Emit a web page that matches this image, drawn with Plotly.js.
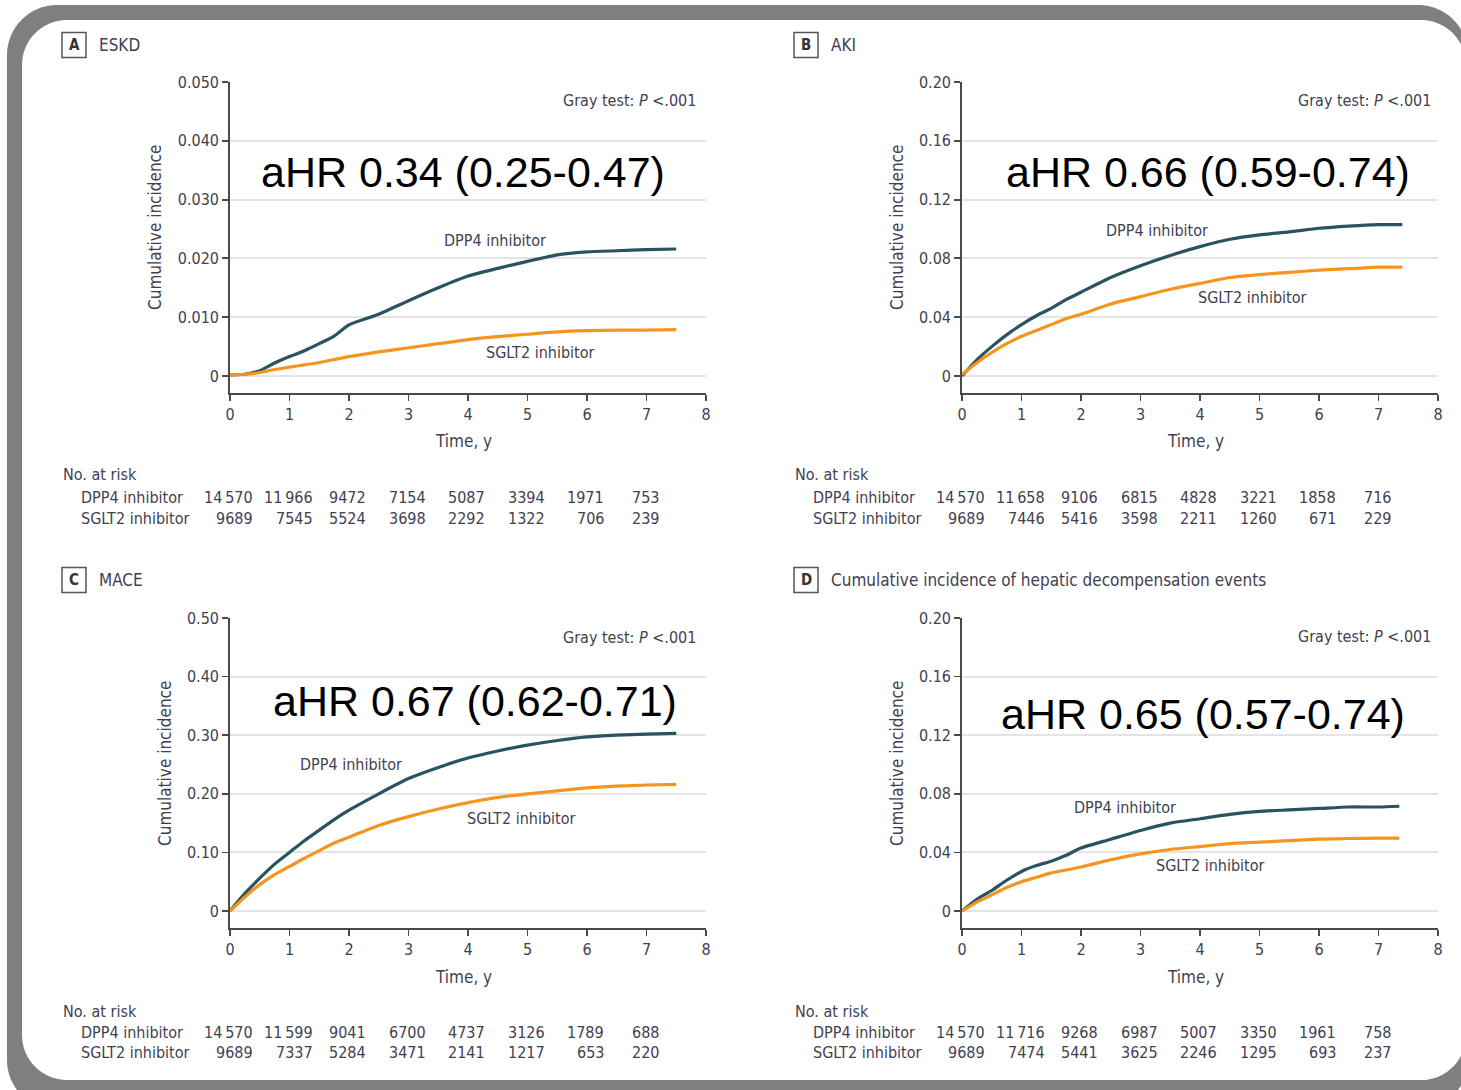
<!DOCTYPE html>
<html>
<head>
<meta charset="utf-8">
<script src="https://cdn.plot.ly/plotly-3.0.1.min.js"></script>
<style>
html,body{margin:0;padding:0;background:#fff;}
#chart{width:1461px;height:1090px;}
</style>
</head>
<body>
<div id="chart"></div>
<script>
// ---------- DATA ----------
const timeA = [0,0.25,0.5,0.75,1,1.25,1.5,1.75,2,2.5,3,3.5,4,4.5,5,5.5,6,6.5,7,7.5];
const eskdDPP4 = [0.0002,0.0003,0.0009,0.0022,0.0033,0.0043,0.0055,0.0068,0.0087,0.0105,0.0128,0.0150,0.0170,0.0183,0.0195,0.0206,0.0211,0.0213,0.0215,0.0216];
const eskdSGLT2 = [0.0002,0.0003,0.0006,0.0011,0.0015,0.0019,0.0023,0.0028,0.0033,0.0041,0.0048,0.0055,0.0062,0.0067,0.0071,0.0075,0.0077,0.0078,0.0078,0.0079];

const timeB = [0,0.25,0.5,0.75,1,1.25,1.5,1.75,2,2.5,3,3.5,4,4.5,5,5.5,6,6.5,7,7.4];
const akiDPP4 = [0,0.011,0.020,0.028,0.035,0.041,0.046,0.052,0.057,0.067,0.075,0.082,0.088,0.093,0.096,0.098,0.1005,0.102,0.103,0.103];
const akiSGLT2 = [0.001,0.009,0.016,0.022,0.027,0.031,0.035,0.039,0.042,0.049,0.054,0.059,0.063,0.067,0.069,0.0705,0.072,0.073,0.074,0.074];

const timeC = [0,0.25,0.5,0.75,1,1.25,1.5,1.75,2,2.5,3,3.5,4,4.5,5,5.5,6,6.5,7,7.5];
const maceDPP4 = [0,0.030,0.056,0.080,0.100,0.120,0.138,0.156,0.172,0.200,0.226,0.245,0.261,0.273,0.283,0.291,0.297,0.300,0.302,0.303];
const maceSGLT2 = [0,0.024,0.045,0.062,0.076,0.090,0.103,0.116,0.126,0.146,0.161,0.174,0.185,0.194,0.200,0.205,0.210,0.213,0.215,0.216];

const timeD = [0,0.25,0.5,0.75,1,1.25,1.5,1.75,2,2.5,3,3.5,4,4.5,5,5.5,6,6.5,7,7.35];
const hepDPP4 = [0,0.008,0.014,0.021,0.027,0.031,0.034,0.038,0.043,0.049,0.055,0.060,0.063,0.066,0.068,0.069,0.070,0.071,0.071,0.0715];
const hepSGLT2 = [0,0.006,0.011,0.016,0.020,0.023,0.026,0.028,0.030,0.035,0.039,0.042,0.044,0.046,0.047,0.048,0.049,0.0495,0.0497,0.0498];

const riskYears = [0,1,2,3,4,5,6,7];
const riskA_DPP4 = [14570,11966,9472,7154,5087,3394,1971,753];
const riskA_SGLT2 = [9689,7545,5524,3698,2292,1322,706,239];
const riskB_DPP4 = [14570,11658,9106,6815,4828,3221,1858,716];
const riskB_SGLT2 = [9689,7446,5416,3598,2211,1260,671,229];
const riskC_DPP4 = [14570,11599,9041,6700,4737,3126,1789,688];
const riskC_SGLT2 = [9689,7337,5284,3471,2141,1217,653,220];
const riskD_DPP4 = [14570,11716,9268,6987,5007,3350,1961,758];
const riskD_SGLT2 = [9689,7474,5441,3625,2246,1295,693,237];

const panelLetters = ['A','B','C','D'];
const panelTitles = ['ESKD','AKI','MACE','Cumulative incidence of hepatic decompensation events'];
const hrTexts = ['aHR 0.34 (0.25-0.47)','aHR 0.66 (0.59-0.74)','aHR 0.67 (0.62-0.71)','aHR 0.65 (0.57-0.74)'];
const yTickValsA = [0,0.01,0.02,0.03,0.04,0.05];
const yTickTextA = ['0','0.010','0.020','0.030','0.040','0.050'];
const yTickValsB = [0,0.04,0.08,0.12,0.16,0.20];
const yTickTextB = ['0','0.04','0.08','0.12','0.16','0.20'];
const yTickValsC = [0,0.1,0.2,0.3,0.4,0.5];
const yTickTextC = ['0','0.10','0.20','0.30','0.40','0.50'];
const xTickVals = [0,1,2,3,4,5,6,7,8];
const seriesNames = ['DPP4 inhibitor','SGLT2 inhibitor'];

// ---------- LAYOUT HELPERS ----------
const W = 1461, H = 1090;
const px = v => v / W;
const py = v => 1 - v / H;
const FONT = '"Liberation Sans Narrow", "DejaVu Sans Condensed", "Roboto Condensed", "Arial Narrow", "Liberation Sans", sans-serif';
const TXT = '#3f4150';
const AX = '#4a4a4a';
const DPP4_COLOR = '#29535f';
const SGLT2_COLOR = '#f7941d';

const panels = [
  {t: timeA, d: eskdDPP4, s: eskdSGLT2, rd: riskA_DPP4, rs: riskA_SGLT2, x0: 230, x1: 706, yTop: 82, yZero: 376, yBot: 393, ymax: 0.05, tv: yTickValsA, tt: yTickTextA,
   lblX: 62, lblY: 45, grayX: 698, grayY: 101, hrX: 463, hrY: 172, dLab: [495,240], sLab: [540,352], ytX: 155, ytY: 228, tY: 441, riskY: [475,497,518]},
  {t: timeB, d: akiDPP4, s: akiSGLT2, rd: riskB_DPP4, rs: riskB_SGLT2, x0: 962, x1: 1438, yTop: 82, yZero: 376, yBot: 393, ymax: 0.2, tv: yTickValsB, tt: yTickTextB,
   lblX: 794, lblY: 45, grayX: 1433, grayY: 101, hrX: 1208, hrY: 172, dLab: [1157,230], sLab: [1252,297], ytX: 897, ytY: 228, tY: 441, riskY: [475,497,518]},
  {t: timeC, d: maceDPP4, s: maceSGLT2, rd: riskC_DPP4, rs: riskC_SGLT2, x0: 230, x1: 706, yTop: 618, yZero: 911, yBot: 928, ymax: 0.5, tv: yTickValsC, tt: yTickTextC,
   lblX: 62, lblY: 580, grayX: 698, grayY: 637, hrX: 475, hrY: 701, dLab: [351,764], sLab: [521,818], ytX: 165, ytY: 764, tY: 977, riskY: [1011,1032,1052]},
  {t: timeD, d: hepDPP4, s: hepSGLT2, rd: riskD_DPP4, rs: riskD_SGLT2, x0: 962, x1: 1438, yTop: 618, yZero: 911, yBot: 928, ymax: 0.2, tv: yTickValsB, tt: yTickTextB,
   lblX: 794, lblY: 580, grayX: 1433, grayY: 636, hrX: 1203, hrY: 714, dLab: [1125,807], sLab: [1210,865], ytX: 897, ytY: 764, tY: 977, riskY: [1011,1032,1052]}
];

function fmt(n){
  const s = String(n);
  return s.length > 4 ? s.slice(0, s.length-3) + '\u2009' + s.slice(-3) : s;
}

function roundRect(x0, y0, x1, y1, r){
  const k = 0.5523 * r;
  const X = v => px(v).toFixed(5), Y = v => py(v).toFixed(5);
  return 'M' + X(x0+r) + ',' + Y(y0) +
    ' L' + X(x1-r) + ',' + Y(y0) +
    ' C' + X(x1-r+k) + ',' + Y(y0) + ' ' + X(x1) + ',' + Y(y0+r-k) + ' ' + X(x1) + ',' + Y(y0+r) +
    ' L' + X(x1) + ',' + Y(y1-r) +
    ' C' + X(x1) + ',' + Y(y1-r+k) + ' ' + X(x1-r+k) + ',' + Y(y1) + ' ' + X(x1-r) + ',' + Y(y1) +
    ' L' + X(x0+r) + ',' + Y(y1) +
    ' C' + X(x0+r-k) + ',' + Y(y1) + ' ' + X(x0) + ',' + Y(y1-r+k) + ' ' + X(x0) + ',' + Y(y1-r) +
    ' L' + X(x0) + ',' + Y(y0+r) +
    ' C' + X(x0) + ',' + Y(y0+r-k) + ' ' + X(x0+r-k) + ',' + Y(y0) + ' ' + X(x0+r) + ',' + Y(y0) + ' Z';
}

const traces = [];
const layout = {
  width: W, height: H,
  margin: {l:0, r:0, t:0, b:0},
  paper_bgcolor: '#ffffff',
  plot_bgcolor: 'rgba(0,0,0,0)',
  showlegend: false,
  font: {family: FONT, color: TXT, size: 16},
  shapes: [
    {type:'path', xref:'paper', yref:'paper', layer:'below', path: roundRect(7, 5, 1468, 1110, 50), fillcolor:'#7f7f7f', line:{width:0}},
    {type:'path', xref:'paper', yref:'paper', layer:'below', path: roundRect(22, 20, 1466, 1080, 45), fillcolor:'#ffffff', line:{width:0}}
  ],
  annotations: []
};

const offsets = [25, 25.5, 19, 19.5, 19, 19.5, 19, 14.5];

panels.forEach((p, i) => {
  const n = i === 0 ? '' : String(i+1);
  const xa = 'x' + n, ya = 'y' + n;
  const pxPerUnit = (p.yZero - p.yTop) / p.ymax;
  const ymin = -(p.yBot - p.yZero) / pxPerUnit;
  traces.push({x: p.t, y: p.d, xaxis: xa, yaxis: ya, type: 'scatter', mode: 'lines', name: seriesNames[0],
    line: {color: DPP4_COLOR, width: 3.2, shape: 'spline', smoothing: 0.6}, hoverinfo: 'x+y'});
  traces.push({x: p.t, y: p.s, xaxis: xa, yaxis: ya, type: 'scatter', mode: 'lines', name: seriesNames[1],
    line: {color: SGLT2_COLOR, width: 3.2, shape: 'spline', smoothing: 0.6}, hoverinfo: 'x+y'});

  layout['xaxis' + n] = {
    domain: [px(p.x0), px(p.x1)], range: [0, 8], anchor: ya,
    showline: true, linecolor: AX, linewidth: 1.8, ticks: 'outside', ticklen: 6, tickwidth: 1.8, tickcolor: AX,
    tickvals: xTickVals, showgrid: false, zeroline: false, fixedrange: true,
    tickfont: {family: FONT, size: 16, color: TXT}
  };
  layout['yaxis' + n] = {
    domain: [py(p.yBot), py(p.yTop)], range: [ymin, p.ymax], anchor: xa,
    showline: true, linecolor: AX, linewidth: 1.8, ticks: 'outside', ticklen: 6, tickwidth: 1.8, tickcolor: AX,
    tickvals: p.tv, ticktext: p.tt, showgrid: true, gridcolor: '#e4e4e4', gridwidth: 2, zeroline: false, fixedrange: true,
    tickfont: {family: FONT, size: 16, color: TXT}
  };

  // panel letter box
  layout.shapes.push({type:'rect', xref:'paper', yref:'paper', x0: px(p.lblX), x1: px(p.lblX+24), y0: py(p.lblY+12.5), y1: py(p.lblY-12.5),
    line:{color:'#555', width:1.5}, fillcolor:'#fff', layer:'above'});
  const A = layout.annotations;
  A.push({xref:'paper', yref:'paper', x: px(p.lblX+12), y: py(p.lblY), text: '<b>' + panelLetters[i] + '</b>', showarrow:false,
    xanchor:'center', yanchor:'middle', font:{family: FONT, size: 15, color: '#333'}});
  A.push({xref:'paper', yref:'paper', x: px(p.lblX+35), y: py(p.lblY), text: panelTitles[i], showarrow:false,
    xanchor:'left', yanchor:'middle', font:{family: FONT, size: 17, color: TXT}});
  A.push({xref:'paper', yref:'paper', x: px(p.grayX), y: py(p.grayY), text: 'Gray test: <i>P</i> &lt;.001', showarrow:false,
    xanchor:'right', yanchor:'middle', font:{family: FONT, size: 16, color: TXT}});
  A.push({xref:'paper', yref:'paper', x: px(p.hrX), y: py(p.hrY), text: hrTexts[i], showarrow:false,
    xanchor:'center', yanchor:'middle', font:{family: 'Liberation Sans, Arial, sans-serif', size: 43, color: '#000'}});
  A.push({xref:'paper', yref:'paper', x: px(p.dLab[0]), y: py(p.dLab[1]), text: seriesNames[0], showarrow:false,
    xanchor:'center', yanchor:'middle', font:{family: FONT, size: 16, color: TXT}});
  A.push({xref:'paper', yref:'paper', x: px(p.sLab[0]), y: py(p.sLab[1]), text: seriesNames[1], showarrow:false,
    xanchor:'center', yanchor:'middle', font:{family: FONT, size: 16, color: TXT}});
  A.push({xref:'paper', yref:'paper', x: px(p.ytX), y: py(p.ytY), text: 'Cumulative incidence', showarrow:false, textangle: -90,
    xanchor:'center', yanchor:'middle', font:{family: FONT, size: 17, color: TXT}});
  A.push({xref:'paper', yref:'paper', x: px((p.x0 + p.x1)/2 - 5), y: py(p.tY), text: 'Time, y', showarrow:false,
    xanchor:'center', yanchor:'middle', font:{family: FONT, size: 17, color: TXT}});
  // risk table
  A.push({xref:'paper', yref:'paper', x: px(p.lblX - 1), y: py(p.riskY[0]), text: 'No. at risk', showarrow:false,
    xanchor:'left', yanchor:'middle', font:{family: FONT, size: 16, color: TXT}});
  A.push({xref:'paper', yref:'paper', x: px(p.lblX+17), y: py(p.riskY[1]), text: seriesNames[0], showarrow:false,
    xanchor:'left', yanchor:'middle', font:{family: FONT, size: 16, color: TXT}});
  A.push({xref:'paper', yref:'paper', x: px(p.lblX+17), y: py(p.riskY[2]), text: seriesNames[1], showarrow:false,
    xanchor:'left', yanchor:'middle', font:{family: FONT, size: 16, color: TXT}});
  riskYears.forEach((yr, j) => {
    A.push({xref: xa, yref:'paper', x: yr, y: py(p.riskY[1]), text: fmt(p.rd[j]), showarrow:false,
      xanchor:'right', yanchor:'middle', xshift: offsets[j], font:{family: FONT, size: 16, color: TXT}});
    A.push({xref: xa, yref:'paper', x: yr, y: py(p.riskY[2]), text: fmt(p.rs[j]), showarrow:false,
      xanchor:'right', yanchor:'middle', xshift: offsets[j], font:{family: FONT, size: 16, color: TXT}});
  });
});

Plotly.newPlot('chart', traces, layout, {displayModeBar: false, staticPlot: true});
</script>
</body>
</html>
